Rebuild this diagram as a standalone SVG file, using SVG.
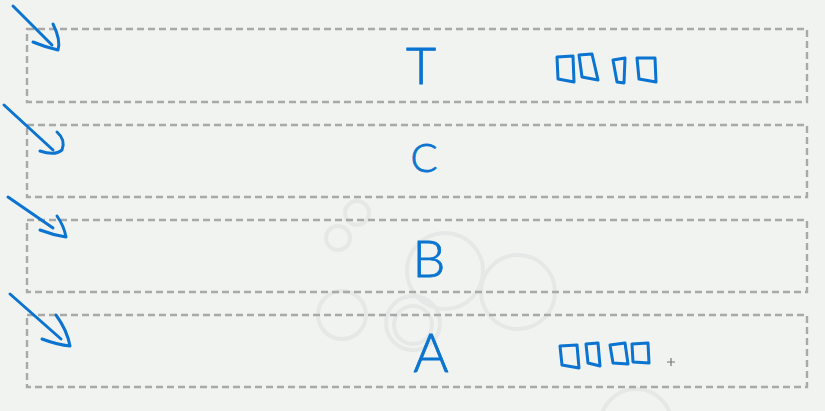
<svg xmlns="http://www.w3.org/2000/svg" width="825" height="411" viewBox="0 0 825 411">
<style>
.bg{fill:#f1f3f1}
.deco{fill:none;stroke:#e5e8e6;stroke-width:4}
.lane{fill:none;stroke:#a9a9a9;stroke-width:2.4;stroke-dasharray:7 4}
.ink{fill:none;stroke:#0a74d0;stroke-width:3;stroke-linecap:round;stroke-linejoin:round}
.letter{font-family:"Lato","Liberation Sans",sans-serif;font-weight:300;fill:#0a74d0;stroke:#0a74d0;stroke-width:0.8;text-anchor:middle}
.plus{stroke:#777;stroke-width:1.2}
</style>
<rect class="bg" x="0" y="0" width="825" height="411"/>
<g id="background">
<circle class="deco" cx="357" cy="213" r="12"/>
<circle class="deco" cx="338" cy="238" r="12"/>
<circle class="deco" cx="445" cy="271" r="38"/>
<circle class="deco" cx="518" cy="292" r="37"/>
<circle class="deco" cx="342" cy="315" r="24"/>
<circle class="deco" cx="413" cy="323" r="27"/>
<circle class="deco" cx="413" cy="325" r="19"/>
<circle class="deco" cx="636" cy="425" r="36"/>
</g>
<g id="lane-T">
<rect class="lane" x="27" y="29" width="780" height="73"/>
<text class="letter" x="421" y="84" font-size="52">T</text>
<g class="ink">
<path d="M557 57 L573 56 L574 82 L558 79 Z"/>
<path d="M579 55 L592 54 L598 80 L582 77 Z"/>
<path d="M613 60 L625 58 L624 83 L617 82 Z"/>
<path d="M637 58 L655 58 L656 82 L639 79 Z"/>
</g>
</g>
<g id="lane-C">
<rect class="lane" x="27" y="125" width="780" height="72"/>
<text class="letter" x="424" y="172" font-size="40">C</text>
</g>
<g id="lane-B">
<rect class="lane" x="27" y="220" width="780" height="72"/>
<text class="letter" x="429" y="277" font-size="52">B</text>
</g>
<g id="lane-A">
<rect class="lane" x="27" y="315" width="780" height="72"/>
<text class="letter" x="431" y="372" font-size="54">A</text>
<g class="ink">
<path d="M560 346 L577 345 L579 368 L562 365 Z"/>
<path d="M586 344 L598 343 L600 366 L588 363 Z"/>
<path d="M610 345 L625 343 L628 364 L613 363 Z"/>
<path d="M632 344 L648 343 L649 363 L633 362 Z"/>
</g>
<path class="plus" d="M667 362 H675 M671 358 V366"/>
</g>
<g id="connectors" class="ink">
<path d="M13 6 L52 45"/>
<path d="M53 24 Q61 40 58 50 Q45 47 33 42"/>
<path d="M4 105 L53 150"/>
<path d="M57 132 Q66 140 62 150 Q55 156 40 151"/>
<path d="M8 197 L53 228"/>
<path d="M57 216 Q64 226 66 237 Q53 235 40 230"/>
<path d="M10 294 L61 339"/>
<path d="M56 315 Q67 330 70 346 Q58 345 42 339"/>
</g>
</svg>
